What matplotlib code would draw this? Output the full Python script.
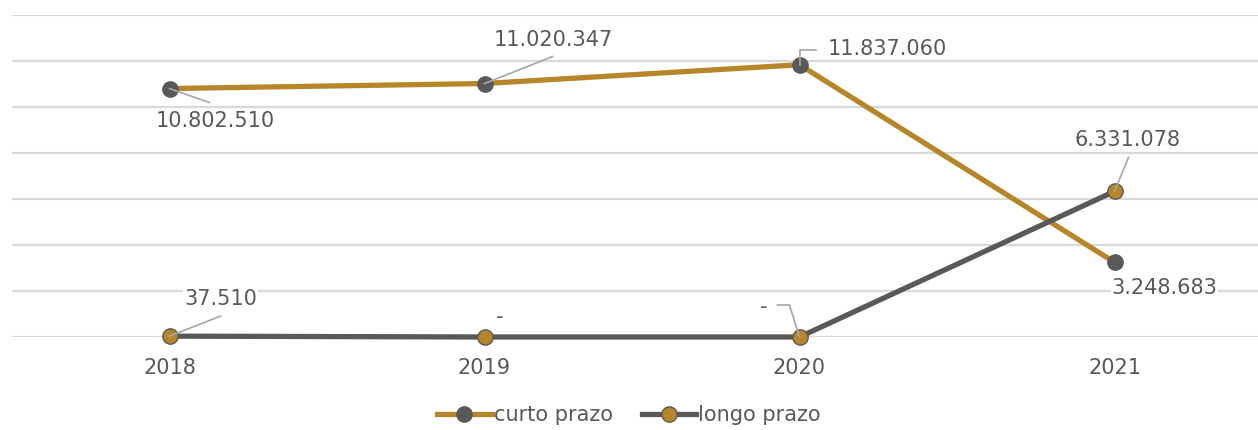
import matplotlib
matplotlib.use('Agg')
import matplotlib.pyplot as plt
from matplotlib.transforms import IdentityTransform

# ---------------------------------------------------------------------------
# Data
# ---------------------------------------------------------------------------
YEARS = ['2018', '2019', '2020', '2021']
CURTO = [10802510, 11020347, 11837060, 3248683]
LONGO = [37510, 0, 0, 6331078]

# label placements: (text offset px, leader path offsets px), y down positive
CURTO_LABELS = [
    ((46, 32), [(0, 0), (40, 14)]),
    ((69, -44), [(0, 0), (68, -27)]),
    ((88, -16), [(0, 0), (0, -15), (16, -15)]),
    ((50, 26), None),
]
LONGO_LABELS = [
    ((51, -37), [(0, 0), (51, -20)]),
    ((15, -20), None),
    ((-36, -30), [(0, 0), (-10, -32), (-22, -32)]),
    ((13, -51), [(0, 0), (14, -34)]),
]

GOLD = '#B7862A'
DARK = '#595959'
GRID = '#D9D9D9'
LEADER = '#A6A6A6'

W, H = 1258, 430
plt.rcParams['font.family'] = ['DejaVu Sans']

fig = plt.figure(figsize=(W / 100, H / 100), dpi=100)
fig.patch.set_facecolor('white')
ax = fig.add_axes([12 / W, 93 / H, 1260 / W, 322 / H])

x = list(range(len(YEARS)))
ax.plot(x, CURTO, color=GOLD, lw=3.8, marker='o', markersize=11,
        markerfacecolor=DARK, markeredgecolor=DARK, clip_on=False,
        zorder=3, label='curto prazo')
ax.plot(x, LONGO, color=DARK, lw=3.8, marker='o', markersize=11,
        markerfacecolor=GOLD, markeredgecolor=DARK, markeredgewidth=1,
        clip_on=False, zorder=4, label='longo prazo')

ax.set_xlim(-0.5, 3.5)
ax.set_ylim(0, 14000000)
ax.set_yticks(range(0, 14000001, 2000000))
ax.grid(axis='y', color=GRID, lw=1.6)
ax.set_axisbelow(True)
for s in ax.spines.values():
    s.set_visible(False)
ax.set_xticks(x)
ax.set_xticklabels(YEARS, fontsize=15, color=DARK)
ax.tick_params(axis='x', length=0, pad=15)
ax.tick_params(axis='y', length=0, labelleft=False)


def fmt(v):
    return '-' if v == 0 else f'{v:,}'.replace(',', '.')


def add_labels(values, specs):
    for i, (v, (toff, path)) in enumerate(zip(values, specs)):
        px, py = ax.transData.transform((i, v))
        if path:
            xs = [px + dx for dx, dy in path]
            ys = [py - dy for dx, dy in path]
            ax.plot(xs, ys, color=LEADER, lw=1.2, transform=IdentityTransform(),
                    zorder=5, clip_on=False)
        ax.text(px + toff[0], py - toff[1], fmt(v), fontsize=15, color=DARK,
                ha='center', va='center', transform=IdentityTransform(),
                zorder=6, bbox=dict(facecolor='white', edgecolor='none', pad=0.5))


add_labels(CURTO, CURTO_LABELS)
add_labels(LONGO, LONGO_LABELS)

fig.legend(loc='center', bbox_to_anchor=(0.5, 1 - 415 / H), ncol=2,
           frameon=False, fontsize=15, labelcolor=DARK, handlelength=2.6,
           handletextpad=0.1, columnspacing=1.4)

fig.savefig('out.png', dpi=100, facecolor='white')
